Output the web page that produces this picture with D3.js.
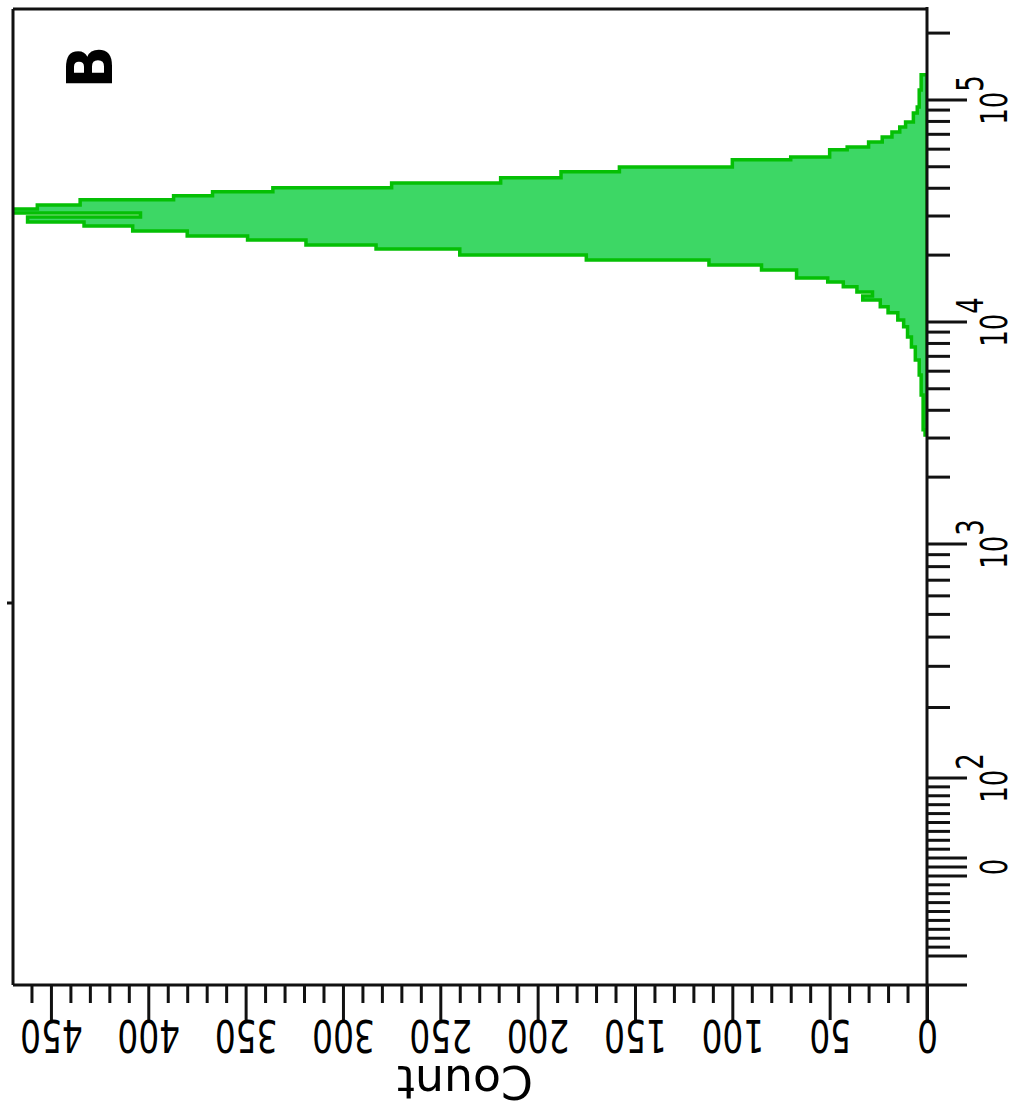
<!DOCTYPE html>
<html>
<head>
<meta charset="utf-8">
<script src="https://d3js.org/d3.v7.min.js"></script>
<style>
  body { margin: 0; background: #fff; }
  text { font-family: "Liberation Sans Narrow", "DejaVu Sans Condensed", "Liberation Sans", sans-serif; fill: #000; }
</style>
</head>
<body>
<div id="hist-area"></div>
<script>
// histogram bins, edges given as log10 of the intensity (bottom -> top)
var binEdges = [3.491, 3.514, 3.671, 3.761, 3.829, 3.887, 3.932, 3.978, 4.009, 4.041,
  4.068, 4.099, 4.117, 4.135, 4.158, 4.180, 4.198, 4.234, 4.257, 4.279,
  4.302, 4.329, 4.347, 4.369, 4.387, 4.410, 4.432, 4.450, 4.473, 4.491,
  4.509, 4.527, 4.550, 4.568, 4.586, 4.604, 4.626, 4.649, 4.676, 4.698,
  4.730, 4.743, 4.775, 4.788, 4.811, 4.833, 4.856, 4.878, 4.901, 4.941,
  4.968, 5.045, 5.113];
var binCounts = [1, 2, 3, 4, 6, 8, 10, 12, 15, 20,
  24, 33, 28, 36, 43, 51, 67, 85, 112, 175,
  240, 283, 319, 349, 380, 408, 433, 462, 404, 490,
  457, 435, 387, 367, 336, 275, 219, 188, 158, 100,
  70, 50, 41, 30, 23, 18, 14, 11, 7, 5,
  4, 3];

// count axis ticks
var countMajor = [0, 50, 100, 150, 200, 250, 300, 350, 400, 450];
var countMinor = [10, 20, 30, 40, 60, 70, 80, 90, 110, 120, 130, 140, 160, 170, 180, 190,
  210, 220, 230, 240, 260, 270, 280, 290, 310, 320, 330, 340, 360, 370, 380, 390,
  410, 420, 430, 440, 460];

// intensity axis ticks
var logMajor = [-100, -10, 0, 10, 100, 1000, 10000, 100000];
var logMinor = [-90, -80, -70, -60, -50, -40, -30, -20, 20, 30, 40, 50, 60, 70, 80, 90,
  200, 300, 400, 500, 600, 700, 800, 900,
  2000, 3000, 4000, 5000, 6000, 7000, 8000, 9000,
  20000, 30000, 40000, 50000, 60000, 70000, 80000, 90000, 200000];
var logLabelValues = [0, 100, 1000, 10000, 100000];
var logLabelBase = ["0", "10", "10", "10", "10"];
var logLabelExp = ["", "2", "3", "4", "5"];

var width = 1017, height = 1111;
var frame = {left: 13, top: 9, right: 927, bottom: 985};

var svg = d3.select("#hist-area")
  .append("svg")
    .attr("width", width)
    .attr("height", height);

// biexponential-like display transform (linear around zero, log above)
function biex(v) {
  if (v >= 1000) return Math.log10(v);
  if (v >= 100) return 3 - (3 - Math.log10(v)) * 1.054;
  return 1.946 - (1 - v / 100) * 0.401;
}

var y = d3.scaleLinear()
  .domain([1.0135, 5.414])
  .range([frame.bottom, 8]);
function yv(v) { return y(biex(v)); }

var x = d3.scaleLinear()
  .domain([0, 470])
  .range([frame.right, 12]);

svg.append("clipPath")
    .attr("id", "plot-clip")
  .append("rect")
    .attr("x", frame.left)
    .attr("y", frame.top)
    .attr("width", frame.right - frame.left)
    .attr("height", frame.bottom - frame.top);

// histogram outline as steps
var pts = [[binEdges[0], 0]];
binCounts.forEach(function(c, i) {
  pts.push([binEdges[i], c]);
  pts.push([binEdges[i + 1], c]);
});
pts.push([binEdges[binEdges.length - 1], 0]);

var histLine = d3.line()
  .x(function(d) { return x(d[1]); })
  .y(function(d) { return yv(Math.pow(10, d[0])); });

svg.append("path")
  .datum(pts)
  .attr("clip-path", "url(#plot-clip)")
  .attr("d", histLine(pts) + "Z")
  .attr("fill", "#3dd765")
  .attr("stroke", "#05bf05")
  .attr("stroke-width", 3.5)
  .attr("stroke-linejoin", "miter");

// frame
var frameColor = "#111";
svg.append("line").attr("x1", frame.left).attr("y1", frame.top).attr("x2", frame.left).attr("y2", frame.bottom);
svg.append("line").attr("x1", frame.left).attr("y1", frame.top).attr("x2", frame.right).attr("y2", frame.top);
svg.append("line").attr("x1", frame.right).attr("y1", 7).attr("x2", frame.right).attr("y2", 1020);
svg.append("line").attr("x1", frame.left).attr("y1", frame.bottom).attr("x2", 967).attr("y2", frame.bottom);
svg.append("line").attr("x1", 7).attr("y1", 603).attr("x2", frame.left).attr("y2", 603);
svg.selectAll("line")
  .attr("stroke", frameColor)
  .attr("stroke-width", 3);

// count axis (bottom), labels upside down
var countMinorAxis = svg.append("g")
  .attr("transform", "translate(0," + frame.bottom + ")")
  .call(d3.axisBottom(x).tickValues(countMinor).tickSize(18).tickFormat(""));

var countAxis = svg.append("g")
  .attr("transform", "translate(0," + frame.bottom + ")")
  .call(d3.axisBottom(x).tickValues(countMajor).tickSize(35).tickFormat(d3.format("d")));

[countMinorAxis, countAxis].forEach(function(g) {
  g.select(".domain").remove();
  g.selectAll("line").attr("stroke", frameColor).attr("stroke-width", 3);
});

countAxis.selectAll("text")
  .attr("y", 0)
  .attr("dy", null)
  .attr("font-size", 44)
  .attr("font-family", null)
  .attr("transform", "translate(0,35) rotate(180) scale(0.83,1)");

svg.append("text")
  .attr("transform", "translate(465,1066) rotate(180)")
  .attr("text-anchor", "middle")
  .attr("font-size", 46)
  .attr("textLength", 136)
  .attr("lengthAdjust", "spacingAndGlyphs")
  .text("Count");

// intensity axis (right)
svg.append("g")
  .selectAll("line")
  .data(logMinor)
  .enter()
  .append("line")
    .attr("x1", frame.right)
    .attr("x2", frame.right + 23)
    .attr("y1", function(d) { return yv(d); })
    .attr("y2", function(d) { return yv(d); })
    .attr("stroke", frameColor)
    .attr("stroke-width", 3);

svg.append("g")
  .selectAll("line")
  .data(logMajor)
  .enter()
  .append("line")
    .attr("x1", frame.right)
    .attr("x2", frame.right + 40)
    .attr("y1", function(d) { return yv(d); })
    .attr("y2", function(d) { return yv(d); })
    .attr("stroke", frameColor)
    .attr("stroke-width", 3);

var logText = svg.append("g")
  .selectAll("text")
  .data(logLabelValues)
  .enter()
  .append("text")
    .attr("transform", function(d) { return "translate(1007," + yv(d) + ") rotate(-90) scale(0.78,1)"; })
    .attr("text-anchor", "middle")
    .attr("font-size", 37);

logText.append("tspan")
  .text(function(d, i) { return logLabelBase[i]; });
logText.append("tspan")
  .attr("dy", -24)
  .text(function(d, i) { return logLabelExp[i]; });

// panel letter
svg.append("text")
  .attr("transform", "translate(112,67) rotate(-90)")
  .attr("text-anchor", "middle")
  .attr("font-size", 62)
  .attr("font-weight", "bold")
  .text("B");
</script>
</body>
</html>
